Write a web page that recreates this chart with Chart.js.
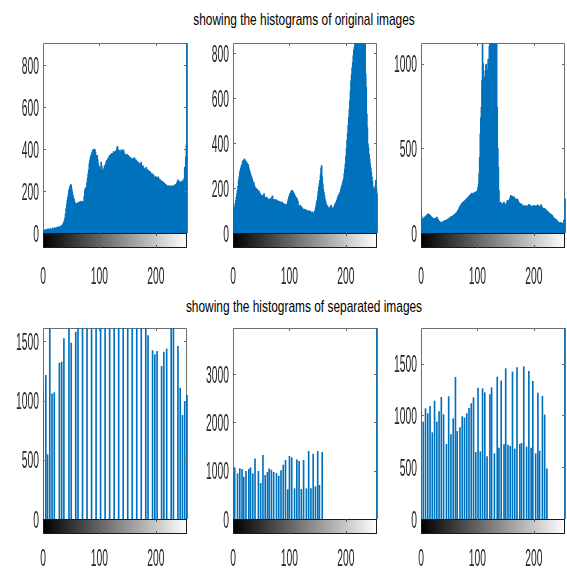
<!DOCTYPE html>
<html>
<head>
<meta charset="utf-8">
<script src="https://cdn.jsdelivr.net/npm/chart.js@4.4.1/dist/chart.umd.min.js"></script>
<style>
  html, body { margin: 0; padding: 0; background: #fff; }
  #fig { position: relative; width: 567px; height: 568px; overflow: hidden; }
  .title {
    position: absolute; left: 104px; width: 400px; text-align: center;
    font: 17px "Liberation Sans", Arial, sans-serif; color: #000;
    line-height: 20px; white-space: nowrap; transform: scaleX(0.7);
  }
  canvas { position: absolute; }
</style>
</head>
<body>
<div id="fig">
  <div class="title" style="top:10px">showing the histograms of original images</div>
  <div class="title" style="top:297px">showing the histograms of separated images</div>
</div>
<script>
// gray levels 0..255 (histogram bins)
const grayLevels = Array.from({ length: 256 }, (_, i) => i);

// histogram of original image 1
const origCounts1 = [
  8,12,10,14,15,12,18,14,16,20,15,13,18,22,16,14,
  18,24,20,16,22,26,20,18,24,28,22,26,30,24,28,32,
  30,36,34,40,46,52,60,72,92,115,135,155,170,185,203,212,
  222,231,228,210,195,180,168,160,150,142,138,140,136,142,145,140,
  148,144,150,146,152,148,145,150,148,175,203,212,215,219,240,262,
  282,300,330,345,360,372,370,385,394,398,392,400,397,385,370,355,
  370,350,330,314,316,298,305,338,320,298,300,298,310,322,315,330,
  340,346,335,352,360,355,370,365,372,378,368,380,375,388,382,386,
  390,380,395,405,413,398,392,386,394,380,388,397,390,384,397,392,
  380,376,370,372,368,375,362,370,358,364,350,360,354,345,350,356,
  348,352,359,342,350,346,338,342,330,336,327,332,320,328,338,322,
  316,320,305,310,298,300,306,314,295,302,290,298,286,294,290,280,
  284,276,282,270,276,265,262,270,258,266,255,262,268,260,250,256,
  243,250,240,246,236,243,230,238,226,232,222,228,218,224,219,226,
  214,222,219,225,216,224,212,222,228,218,226,232,224,238,245,254,
  240,248,235,242,230,244,236,251,240,246,260,314,300,362,420,920
];

// histogram of original image 2
const origCounts2 = [
  123,110,100,115,130,145,160,175,190,210,234,250,271,280,290,300,
  305,318,323,320,330,326,315,320,308,312,300,305,290,280,271,262,
  255,249,240,232,219,225,210,204,200,198,190,195,186,182,188,175,
  178,170,165,160,168,158,167,175,160,153,158,150,160,148,152,145,
  150,140,153,146,155,160,165,150,148,142,150,145,140,148,136,144,
  138,142,135,140,132,138,130,138,128,132,125,130,120,123,128,118,
  130,140,150,160,168,175,178,185,188,190,184,180,175,170,165,160,
  158,153,148,140,125,116,120,123,112,118,108,112,104,100,106,102,
  100,104,96,100,98,94,99,93,96,98,92,88,89,94,86,83,
  90,98,108,120,135,145,165,185,204,220,234,260,290,300,250,219,
  195,180,167,150,140,130,125,120,116,112,110,108,115,120,123,112,
  105,108,112,118,125,130,135,138,145,155,162,167,172,178,182,195,
  205,212,222,232,241,265,285,308,340,375,412,445,480,515,550,589,
  630,678,705,735,760,790,815,826,850,880,900,920,940,950,960,970,
  980,970,960,950,930,920,910,900,880,860,850,708,650,530,470,397,
  380,350,330,308,290,270,249,230,204,200,195,190,210,234,200,175
];

// histogram of original image 3
const origCounts3 = [
  133,100,75,80,84,90,92,94,98,100,104,108,110,114,110,106,
  104,100,96,94,90,86,84,82,84,86,84,90,94,88,80,75,
  70,64,59,62,65,60,64,66,65,70,72,75,74,76,78,80,
  82,84,86,90,94,92,96,98,100,102,104,106,110,114,116,120,
  124,130,136,143,150,156,163,166,173,176,180,182,186,188,192,195,
  198,202,205,208,212,215,220,224,227,230,235,232,228,231,236,240,
  241,238,244,241,250,270,290,350,447,584,680,741,900,1150,1000,878,
  920,859,957,990,996,918,960,1025,878,1100,1150,1200,1250,1300,1300,1250,
  1200,1250,1300,1250,1200,1150,1180,741,500,388,250,173,178,182,175,163,
  163,170,178,182,175,163,168,163,180,192,186,190,192,200,210,222,
  215,218,212,208,214,212,205,198,192,196,202,198,190,182,178,175,
  173,170,168,163,165,158,153,156,160,163,158,155,153,160,165,169,
  165,160,163,158,155,153,158,160,163,160,157,160,157,160,163,166,
  160,155,153,158,162,167,155,148,143,146,145,143,140,138,133,130,
  128,124,120,118,114,112,110,108,104,100,94,90,86,84,82,80,
  75,72,68,65,62,60,59,60,62,59,56,54,51,75,80,202
];

// separated images: only a few gray levels are occupied
const sepBins1 = [0,5,8,12,16,20,29,33,37,46,50,58,62,70,78,86,94,102,110,118,126,134,142,150,158,166,174,182,186,194,198,202,210,214,219,227,231,239,243,247,251,255];
const sepCounts1 = [1078,1213,543,1700,1058,1067,1317,1326,1523,1700,1486,1579,1700,
  1700,1700,1700,1700,1700,1700,1700,1700,1700,1700,1700,1700,1700,1700,1700,
  1549,1422,1388,1416,1289,1410,1436,1700,1700,1459,1106,876,988,1044];

const sepBins2 = [0,3,8,12,16,19,23,28,31,35,39,45,49,53,57,61,64,68,72,77,81,85,89,93,97,100,104,109,113,117,121,125,130,134,138,142,146,150,153,158,255];
const sepCounts2 = [986,1062,938,1041,1028,869,986,1028,1062,938,1248,986,738,1317,903,966,1041,1014,966,945,
  890,1000,1117,1214,607,1297,1269,628,1228,1193,614,1214,628,1400,628,1345,669,1400,697,1379,4200];

const sepBins3 = [0,4,8,12,16,20,24,28,32,36,40,45,49,53,57,61,64,69,73,77,81,85,89,93,97,101,105,109,113,117,122,125,130,135,138,142,147,150,154,158,162,166,170,175,178,182,187,191,195,198,203,207,210,215,219,223,255];
const sepCounts3 = [1036,936,1065,1017,1087,833,1139,936,1036,1174,1007,721,1181,814,968,1367,846,881,988,975,
  1017,1068,1113,1171,643,1264,650,1258,1219,602,1200,1267,630,1370,685,1332,717,1451,714,701,
  1419,676,1461,721,730,1470,695,1425,685,1329,630,1216,656,1184,1004,483,2000];

// tick labels
const xTicks = [0, 100, 200];
const yTicksOrig1 = [0, 200, 400, 600, 800];
const yTicksOrig2 = [0, 200, 400, 600, 800];
const yTicksOrig3 = [0, 500, 1000];
const yTicksSep1 = [0, 500, 1000, 1500];
const yTicksSep2 = [0, 1000, 2000, 3000];
const yTicksSep3 = [0, 500, 1000, 1500];

// y limits
const yMaxes = [906, 846, 1121, 1613, 3954, 1843];

const BLUE = '#0072BD';
const FRAME = '#6e6e6e';
const LABEL = '#262626';
const FONT = '24px "Liberation Sans", Arial, sans-serif';
const SQUEEZE = 0.43;
const PLOT_W = 144, PAD_L = 42, PAD_R = 6, PAD_T = 6, PAD_B = 58, CB_H = 15;

// MATLAB-like box, inward ticks, gray colorbar and condensed tick labels
const matlabAxes = {
  id: 'matlabAxes',
  beforeDraw(chart) {
    const { ctx, chartArea: a } = chart;
    ctx.save();
    ctx.strokeStyle = FRAME;
    ctx.lineWidth = 1;
    ctx.beginPath();
    ctx.moveTo(a.left + 0.5, a.bottom);
    ctx.lineTo(a.left + 0.5, a.top + 0.5);
    ctx.lineTo(a.right - 0.5, a.top + 0.5);
    ctx.lineTo(a.right - 0.5, a.bottom);
    ctx.stroke();
    ctx.restore();
  },
  afterDatasetsDraw(chart, args, opts) {
    const { ctx, chartArea: a, scales: { x, y } } = chart;
    ctx.save();
    ctx.strokeStyle = FRAME;
    ctx.lineWidth = 1;
    ctx.beginPath();
    opts.yTicks.forEach(v => {
      if (v === 0) return;
      const py = Math.round(y.getPixelForValue(v)) + 0.5;
      ctx.moveTo(a.left, py); ctx.lineTo(a.left + 3, py);
      ctx.moveTo(a.right, py); ctx.lineTo(a.right - 3, py);
    });
    xTicks.forEach(v => {
      if (v === 0) return;
      const px = Math.round(x.getPixelForValue(v)) + 0.5;
      ctx.moveTo(px, a.top); ctx.lineTo(px, a.top + 3);
    });
    ctx.stroke();

    // colorbar under the histogram
    const cb = a.bottom;
    const g = ctx.createLinearGradient(a.left, 0, a.right, 0);
    g.addColorStop(0, '#000');
    g.addColorStop(1, '#fff');
    ctx.fillStyle = g;
    ctx.fillRect(a.left, cb, a.right - a.left, CB_H);
    ctx.strokeStyle = '#1a1a1a';
    ctx.strokeRect(a.left + 0.5, cb + 0.5, a.right - a.left - 1, CB_H - 1);
    ctx.strokeStyle = '#555';
    ctx.beginPath();
    xTicks.forEach(v => {
      if (v === 0) return;
      const px = Math.round(x.getPixelForValue(v)) + 0.5;
      ctx.moveTo(px, cb); ctx.lineTo(px, cb + 3);
      ctx.moveTo(px, cb + CB_H); ctx.lineTo(px, cb + CB_H - 3);
    });
    ctx.stroke();

    // tick labels
    ctx.fillStyle = LABEL;
    ctx.font = FONT;
    ctx.textBaseline = 'middle';
    ctx.textAlign = 'right';
    opts.yTicks.forEach(v => {
      const py = y.getPixelForValue(v) + 2;
      ctx.save();
      ctx.translate(a.left - 4, py);
      ctx.scale(SQUEEZE, 1);
      ctx.fillText(String(v), 0, 0);
      ctx.restore();
    });
    ctx.textAlign = 'center';
    xTicks.forEach(v => {
      const px = x.getPixelForValue(v);
      ctx.save();
      ctx.translate(px, a.bottom + opts.labelDy);
      ctx.scale(SQUEEZE, 1);
      ctx.fillText(String(v), 0, 0);
      ctx.restore();
    });
    ctx.restore();
  }
};

const fig = document.getElementById('fig');

function makePanel(p) {
  const cv = document.createElement('canvas');
  cv.width = PAD_L + PLOT_W + PAD_R;
  cv.height = (p.base - p.top) + PAD_T + PAD_B;
  cv.style.left = (p.left - PAD_L) + 'px';
  cv.style.top = (p.top - PAD_T) + 'px';
  fig.appendChild(cv);

  new Chart(cv, {
    type: 'bar',
    data: {
      datasets: [{
        data: p.bins.map((b, i) => ({ x: b, y: p.counts[i] })),
        backgroundColor: BLUE,
        borderWidth: 0,
        barThickness: 1,
        clip: { left: 0, top: 0, right: 1, bottom: 0 }
      }]
    },
    options: {
      responsive: false,
      animation: false,
      devicePixelRatio: 1,
      layout: { padding: { left: PAD_L, top: PAD_T, right: PAD_R, bottom: PAD_B } },
      plugins: {
        legend: { display: false },
        tooltip: { enabled: false },
        matlabAxes: { yTicks: p.yTicks, labelDy: p.labelDy }
      },
      scales: {
        x: { type: 'linear', min: 0, max: 255, offset: false, grid: { offset: false }, display: false },
        y: { min: 0, max: p.yMax, display: false }
      }
    },
    plugins: [matlabAxes]
  });
}

makePanel({ bins: grayLevels, counts: origCounts1, yTicks: yTicksOrig1, yMax: yMaxes[0], left: 43, top: 43, base: 233, labelDy: 44 });
makePanel({ bins: grayLevels, counts: origCounts2, yTicks: yTicksOrig2, yMax: yMaxes[1], left: 233, top: 43, base: 233, labelDy: 44 });
makePanel({ bins: grayLevels, counts: origCounts3, yTicks: yTicksOrig3, yMax: yMaxes[2], left: 421, top: 43, base: 233, labelDy: 44 });
makePanel({ bins: sepBins1, counts: sepCounts1, yTicks: yTicksSep1, yMax: yMaxes[3], left: 43, top: 328, base: 519, labelDy: 40 });
makePanel({ bins: sepBins2, counts: sepCounts2, yTicks: yTicksSep2, yMax: yMaxes[4], left: 233, top: 328, base: 519, labelDy: 40 });
makePanel({ bins: sepBins3, counts: sepCounts3, yTicks: yTicksSep3, yMax: yMaxes[5], left: 421, top: 328, base: 519, labelDy: 40 });
</script>
</body>
</html>
